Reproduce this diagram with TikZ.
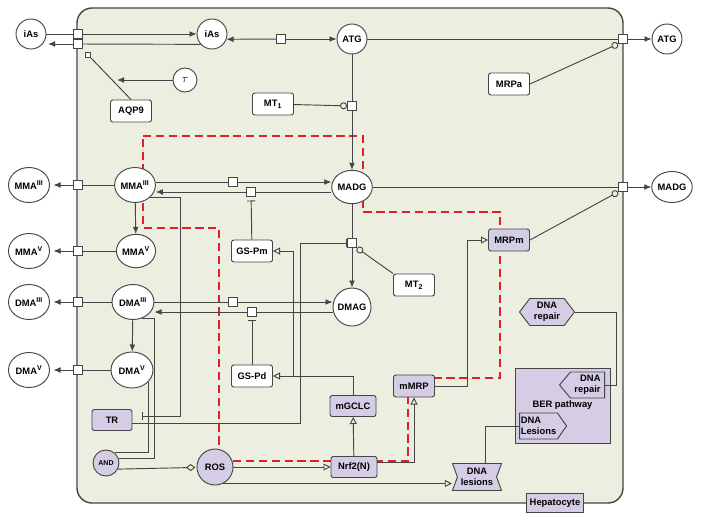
\documentclass[tikz,border=0pt]{standalone}
\usepackage{fontspec}
\setmainfont{Liberation Sans}
\usetikzlibrary{arrows.meta,shapes.geometric,shapes.symbols}
\definecolor{cellbg}{HTML}{ECEEE0}
\definecolor{lav}{HTML}{D5CDE5}
\definecolor{ln}{HTML}{454545}
\definecolor{rdash}{HTML}{E02026}
\tikzset{
  every node/.style={font=\fontsize{8}{9}\selectfont\bfseries,text=black},
  spc/.style={circle,draw=ln,fill=white,inner sep=0pt,minimum size=0.9cm},
  ell/.style={ellipse,draw=ln,fill=white,inner sep=0pt,minimum width=1.2cm,minimum height=1.05cm},
  box/.style={rectangle,rounded corners=2pt,draw=ln,fill=white,inner sep=0pt,minimum width=1.23cm,minimum height=0.66cm},
  pbox/.style={box,fill=lav},
  tsq/.style={rectangle,draw=ln,fill=white,inner sep=0pt,minimum size=0.27cm},
  tag/.style={signal,draw=ln,fill=lav,inner sep=0pt,minimum height=0.78cm},
  act/.style={-{Latex[length=6pt,width=5pt]}},
  ind/.style={-{Triangle[open,length=6pt,width=6pt]}},
  cat/.style={-{Circle[open,length=6pt]}},
  inh/.style={-{Bar[width=7pt]}},
}
\begin{document}
\begin{tikzpicture}[x=0.03cm,y=-0.03cm,color=ln,line width=0.8pt]
\useasboundingbox (0,0) rectangle (701,522);
\draw[fill=cellbg,line width=1.2pt,rounded corners=0.45cm] (77,8) rectangle (623,503);
\draw[rdash,line width=1.6pt,dash pattern=on 7pt off 4pt] (143,136) -- (363,136) -- (363,212) -- (500,212) -- (500,378) -- (408,378) -- (408,461) -- (219,461) -- (219,228) -- (143,228) -- cycle;

\node[spc] (iAso) at (31,34) {iAs};
\node[spc] (iAs) at (212,34) {iAs};
\node[tsq] (t1) at (78,34) {};
\node[tsq] (t2) at (78,44) {};
\node[tsq,minimum size=0.15cm] (aq) at (88,55) {};
\node[box] (AQP9) at (131,111) {AQP9};
\node[spc,minimum size=0.72cm,font=\normalsize] (tau) at (185,80) {$\tau$};
\coordinate (tauend) at (117,80);
\coordinate (iAsend) at (48,44);
\node[tsq] (tATG) at (281,39) {};
\node[spc] (ATG) at (352,39) {ATG};
\node[tsq] (tATGo) at (623,39) {};
\node[spc] (ATGo) at (667,39) {ATG};
\node[box] (MRPa) at (509,84) {MRPa};
\node[box] (MT1) at (273,104) {MT\textsubscript{1}};
\node[tsq] (tMT1) at (352,106) {};
\node[ell,minimum height=1cm] (MADG) at (352,187) {MADG};
\node[tsq] (tMADGo) at (623,187) {};
\node[ell,minimum height=0.93cm] (MADGo) at (672,187) {MADG};
\node[tsq] (tMA1) at (233,182) {};
\node[tsq] (tMA2) at (251,192) {};
\node[box] (GSPm) at (252,251) {GS-Pm};
\node[tsq] (tMD) at (352,243) {};
\node[box] (MT2) at (414,285) {MT\textsubscript{2}};
\node[spc,minimum size=1.14cm] (DMAG) at (352,307) {DMAG};
\node[tsq] (tDA1) at (233,302) {};
\node[tsq] (tDA2) at (252,312) {};
\node[box] (GSPd) at (252,376) {GS-Pd};
\node[pbox] (mMRP) at (414,386) {mMRP};
\node[pbox] (MRPm) at (509,240) {MRPm};
\node[pbox,minimum width=1.38cm,minimum height=0.63cm] (mGCLC) at (353,406) {mGCLC};
\node[pbox,minimum width=1.38cm,minimum height=0.63cm] (Nrf2) at (354,467) {Nrf2(N)};
\node[spc,fill=lav,minimum size=1.08cm] (ROS) at (215,467) {ROS};
\node[spc,fill=lav,minimum size=0.78cm,font=\fontsize{6}{7}\selectfont\bfseries] (AND) at (106,463) {AND};
\node[pbox,minimum width=1.2cm,minimum height=0.63cm] (TR) at (112,420) {TR};
\coordinate (trin) at (142,416);
\coordinate (gsbr) at (293,376);

\node[ell] (MMA3) at (135,185) {MMA\textsuperscript{III}};
\node[ell,minimum width=1.23cm] (MMA3o) at (29,185) {MMA\textsuperscript{III}};
\node[tsq] (tMMA3) at (78,185) {};
\node[ell,minimum width=1.14cm,minimum height=1cm] (MMA5) at (136,251) {MMA\textsuperscript{V}};
\node[ell,minimum width=1.23cm] (MMA5o) at (29,251) {MMA\textsuperscript{V}};
\node[tsq] (tMMA5) at (78,251) {};
\node[ell,minimum width=1.26cm] (DMA3) at (133,302) {DMA\textsuperscript{III}};
\node[ell,minimum width=1.23cm] (DMA3o) at (29,302) {DMA\textsuperscript{III}};
\node[tsq] (tDMA3) at (78,302) {};
\node[ell,minimum width=1.26cm,minimum height=1.08cm] (DMA5) at (132,370) {DMA\textsuperscript{V}};
\node[ell,minimum width=1.23cm] (DMA5o) at (29,370) {DMA\textsuperscript{V}};
\node[tsq] (tDMA5) at (78,370) {};

\node[tag,signal from=west and east,signal to=nowhere,signal pointer angle=140,minimum width=1.47cm,minimum height=0.81cm,align=center] (DNAles) at (477,477) {DNA\\lesions};
\node[tag,signal to=west and east,signal pointer angle=105,minimum width=1.65cm,minimum height=0.81cm,align=center] (DNArep) at (547,312) {DNA\\repair};
\node[draw=ln,fill=lav,minimum width=2.85cm,minimum height=2.25cm,inner sep=0pt] (BER) at (562.5,405.5) {BER pathway};
\node[tag,signal to=west,signal pointer angle=100,minimum width=1.35cm,align=right] (BERrep) at (587.5,385) {DNA\\repair};
\node[tag,signal to=east,signal pointer angle=110,minimum width=1.41cm,align=left] (BERles) at (538.5,426) {DNA\\Lesions};
\node[pbox,rounded corners=0pt,minimum width=1.71cm,minimum height=0.57cm] (Hep) at (555,503) {Hepatocyte};

\draw (iAso) -- (t1);
\draw[act] (t1) -- (iAs);
\draw (iAs.222) -- (t2);
\draw[act] (t2) -- (iAsend);
\draw (aq.south east) -- (AQP9.north);
\draw[act] (tau) -- (tauend);
\draw[{Latex[length=6pt,width=5pt]}-] (iAs.-20) -- (tATG);
\draw[act] (tATG) -- (ATG);
\draw (ATG) -- (tATGo);
\draw[act] (tATGo) -- (ATGo);
\draw[cat] (MRPa.east) -- (tATGo.south west);
\draw (ATG) -- (tMT1);
\draw[act] (tMT1) -- (MADG);
\draw[cat] (MT1) -- (tMT1);
\draw (MMA3.east |- tMA1) -- (tMA1);
\draw[act] (tMA1) -- (tMA1 -| MADG.west);
\draw (MADG.west |- tMA2) -- (tMA2);
\draw[act] (tMA2) -- (tMA2 -| MMA3.east);
\draw[inh,shorten >=3pt] (GSPm) -- (tMA2);
\draw[act] (MMA3) -- (MMA5);
\draw (MMA3) -- (tMMA3);
\draw[act,shorten >=3pt] (tMMA3) -- (MMA3o);
\draw (MMA5) -- (tMMA5);
\draw[act,shorten >=3pt] (tMMA5) -- (MMA5o);
\draw (DMA3) -- (tDMA3);
\draw[act,shorten >=3pt] (tDMA3) -- (DMA3o);
\draw (DMA5) -- (tDMA5);
\draw[act,shorten >=3pt] (tDMA5) -- (DMA5o);
\draw[inh] (MMA3.south east) -- ++(31,0) |- (trin);
\draw[inh] (TR.-10) -- ++(168,0) |- (tMD);
\draw (MADG) -- (tMD);
\draw[act] (tMD) -- (DMAG);
\draw[cat] (MT2.north west) -- (tMD.south east);
\draw[ind] (mGCLC) |- (GSPd);
\draw[ind] (gsbr) |- (GSPm);
\draw[ind] (Nrf2) -- (mGCLC);
\draw[ind] (Nrf2.10) -| (mMRP);
\draw[ind] (mMRP.east) -- ++(32,0) |- (MRPm);
\draw[cat] (MRPm.east) -- (tMADGo.south west);
\draw (MADG) -- (tMADGo);
\draw[act] (tMADGo) -- (MADGo);
\draw (DMA3.east |- tDA1) -- (tDA1);
\draw[act] (tDA1) -- (tDA1 -| DMAG.west);
\draw (DMAG.west |- tDA2) -- (tDA2);
\draw[act] (tDA2) -- (tDA2 -| DMA3.east);
\draw[inh,shorten >=3pt] (GSPd) -- (tDA2);
\draw[act] (DMA3) -- (DMA5);
\draw (DMA3.-60) -- ++(12,0) |- (AND.18);
\draw (DMA5.-36) |- (AND.50);
\draw[-{Diamond[open,length=8pt,width=6pt]},shorten >=1pt] (AND.-27) -- (ROS);
\draw[ind] (ROS) -- (Nrf2);
\draw[ind] (ROS.-63) -- (ROS.-63 -| DNAles.south west);
\draw ([xshift=0.24cm]DNAles.north) |- (BERles);
\draw (DNArep.east) -- ++(41,0) |- (BERrep.east);
\end{tikzpicture}
\end{document}
